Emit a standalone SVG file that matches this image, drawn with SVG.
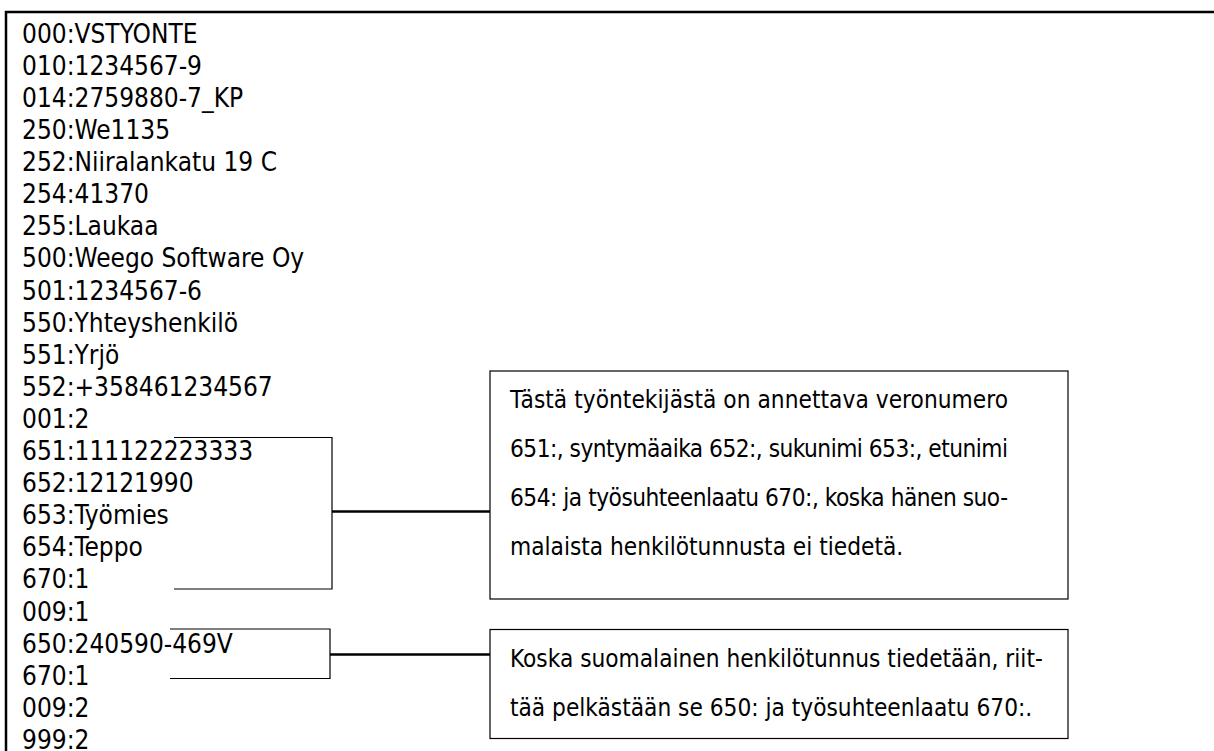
<svg xmlns="http://www.w3.org/2000/svg" width="1214" height="751" viewBox="0 0 1214 751">
<style>
.t{font-family:"DejaVu Sans Condensed","DejaVu Sans",sans-serif;font-stretch:condensed;font-size:26px;fill:#000}
.n{font-family:"DejaVu Sans Condensed","DejaVu Sans",sans-serif;font-stretch:condensed;font-size:24.2px;fill:#000}
.frame{fill:none;stroke:#000;stroke-width:2.5}
.box{fill:#fff;stroke:#000;stroke-width:1.2}
.br{fill:none;stroke:#000;stroke-width:1.2}
.con{fill:none;stroke:#000;stroke-width:2.5}
</style>
<rect width="1214" height="751" fill="#fff"/>
<g id="record">
<path class="frame" d="M1214 12 H6 V751"/>
<text class="t" x="22">
<tspan x="22" y="42.7">000:VSTYONTE</tspan>
<tspan x="22" y="74.8">010:1234567-9</tspan>
<tspan x="22" y="106.9">014:2759880-7_KP</tspan>
<tspan x="22" y="139">250:We1135</tspan>
<tspan x="22" y="171.1">252:Niiralankatu 19 C</tspan>
<tspan x="22" y="203.2">254:41370</tspan>
<tspan x="22" y="235.3">255:Laukaa</tspan>
<tspan x="22" y="267.4">500:Weego Software Oy</tspan>
<tspan x="22" y="299.5">501:1234567-6</tspan>
<tspan x="22" y="331.6">550:Yhteyshenkilö</tspan>
<tspan x="22" y="363.7">551:Yrjö</tspan>
<tspan x="22" y="395.8">552:+358461234567</tspan>
<tspan x="22" y="427.9">001:2</tspan>
<tspan x="22" y="460">651:111122223333</tspan>
<tspan x="22" y="492.1">652:12121990</tspan>
<tspan x="22" y="524.2">653:Työmies</tspan>
<tspan x="22" y="556.3">654:Teppo</tspan>
<tspan x="22" y="588.4">670:1</tspan>
<tspan x="22" y="620.5">009:1</tspan>
<tspan x="22" y="652.6">650:240590-469V</tspan>
<tspan x="22" y="684.7">670:1</tspan>
<tspan x="22" y="716.8">009:2</tspan>
<tspan x="22" y="748.9">999:2</tspan>
</text>
</g>
<g id="connectors">
<path class="br" d="M174 437.5 H332 V589 H174"/>
<path class="con" d="M332 511.5 H490"/>
<path class="br" d="M170 629 H330 V678.5 H170"/>
<path class="con" d="M330 654.5 H490"/>
</g>
<g id="note1">
<rect class="box" x="490" y="371" width="578" height="228"/>
<text class="n">
<tspan x="510" y="408" textLength="498" lengthAdjust="spacing">Tästä työntekijästä on annettava veronumero</tspan>
<tspan x="510" y="457" textLength="498" lengthAdjust="spacing">651:, syntymäaika 652:, sukunimi 653:, etunimi</tspan>
<tspan x="510" y="506" textLength="498" lengthAdjust="spacing">654: ja työsuhteenlaatu 670:, koska hänen suo-</tspan>
<tspan x="510" y="555">malaista henkilötunnusta ei tiedetä.</tspan>
</text>
</g>
<g id="note2">
<rect class="box" x="490" y="629.5" width="578" height="109"/>
<text class="n">
<tspan x="510" y="667">Koska suomalainen henkilötunnus tiedetään, riit-</tspan>
<tspan x="510" y="715.5">tää pelkästään se 650: ja työsuhteenlaatu 670:.</tspan>
</text>
</g>
</svg>
